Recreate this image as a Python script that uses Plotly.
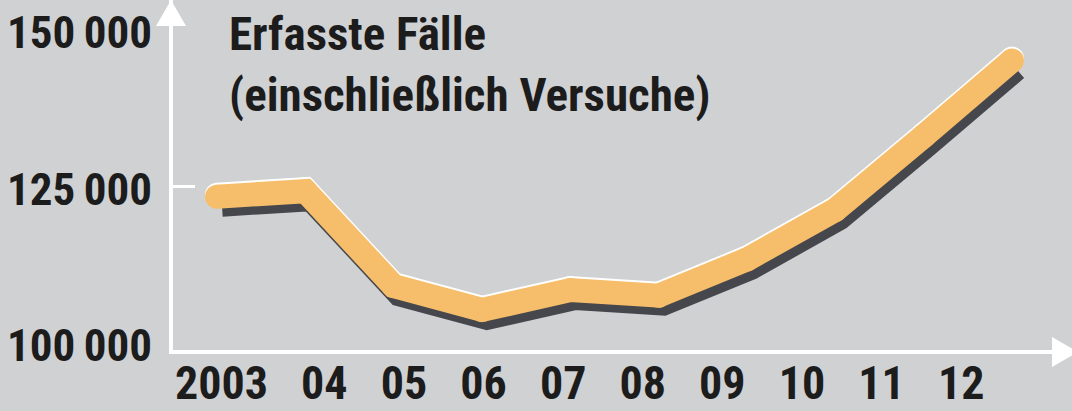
import plotly.graph_objects as go

# ---- data ----
years = ["2003", "04", "05", "06", "07", "08", "09", "10", "11", "12"]
cases = [123373, 124215, 109736, 106107, 109128, 108284, 113800, 121347, 132595, 144117]
y_ticks = [100000, 125000, 150000]
y_labels = ["100\u2009000", "125\u2009000", "150\u2009000"]
title_lines = ["Erfasste Fälle", "(einschließlich Versuche)"]

# ---- layout geometry ----
W, H = 1072, 411
ML, MB = 173, 61
PW, PH = W - ML, H - MB
BG = "#d0d1d3"
ORANGE = "#f6be6a"
SHADOW = "#46474c"
INK = "#1c1c1c"
FONT = "Liberation Sans Narrow, Arial Narrow, Roboto Condensed, DejaVu Sans Condensed, Roboto, sans-serif"

x_step = 88.33
x0 = -44 / x_step
xr = [x0, x0 + PW / x_step]
yr = [100000, 153354]
ypp = PH / (yr[1] - yr[0])
idx = list(range(len(years)))

# label axes (labels in the original are right-aligned on their own spacing)
lab_step = 79.6
lx0 = -(268 - ML) / lab_step
lab_xr = [lx0, lx0 + PW / lab_step]
lab_ypp = (345.5 - 32) / (150000 - 100000)
lab_yr = [100000 - (PH - 345.5) / lab_ypp, 100000 + 345.5 / lab_ypp]


def shift_x(dx):
    return [xr[0] - dx / x_step, xr[1] - dx / x_step]


def shift_y(dy):  # positive = down
    return [yr[0] + dy / ypp, yr[1] + dy / ypp]


fig = go.Figure()
# shadow (base axes, shifted)
fig.add_trace(go.Scatter(x=idx, y=cases, mode="lines", xaxis="x", yaxis="y",
                         line=dict(color=SHADOW, width=22), hoverinfo="skip", showlegend=False))
# white highlight along the top edge
fig.add_trace(go.Scatter(x=idx, y=cases, mode="lines+markers", xaxis="x2", yaxis="y2",
                         line=dict(color="white", width=24),
                         marker=dict(color="white", size=24), hoverinfo="skip", showlegend=False))
# main orange line
fig.add_trace(go.Scatter(x=idx, y=cases, mode="lines+markers", xaxis="x3", yaxis="y3",
                         line=dict(color=ORANGE, width=24),
                         marker=dict(color=ORANGE, size=24), showlegend=False))
# label axes carrier
fig.add_trace(go.Scatter(x=[], y=[], xaxis="x4", yaxis="y4", showlegend=False))

hidden = dict(visible=False, showgrid=False, zeroline=False, automargin=False)
fig.update_layout(
    width=W, height=H, autosize=False,
    margin=dict(l=ML, r=0, t=0, b=MB, pad=0),
    paper_bgcolor=BG, plot_bgcolor=BG,
    xaxis=dict(range=shift_x(5), showline=True, linecolor="white", linewidth=4,
               showticklabels=False, ticks="", showgrid=False, zeroline=False, automargin=False),
    yaxis=dict(range=shift_y(9), showline=True, linecolor="white", linewidth=4,
               showticklabels=False, ticks="", showgrid=False, zeroline=False, automargin=False),
    xaxis2=dict(range=shift_x(0), overlaying="x", **hidden),
    yaxis2=dict(range=shift_y(-2), overlaying="y", **hidden),
    xaxis3=dict(range=xr, overlaying="x", **hidden),
    yaxis3=dict(range=yr, overlaying="y", side="left", showline=False, showgrid=False,
                zeroline=False, tickmode="array", tickvals=[125000], ticks="inside",
                ticklen=22, tickwidth=3, tickcolor="white", showticklabels=False,
                automargin=False),
    xaxis4=dict(range=lab_xr, overlaying="x", side="bottom", showline=False, showgrid=False,
                zeroline=False, tickmode="array", tickvals=idx, ticktext=years, ticks="",
                ticklabelposition="outside left", ticklabelstandoff=2, automargin=False,
                tickfont=dict(family=FONT, size=46, color=INK, weight="bold")),
    yaxis4=dict(range=lab_yr, overlaying="y", side="left", showline=False, showgrid=False,
                zeroline=False, tickmode="array", tickvals=y_ticks, ticktext=y_labels, ticks="",
                ticklabelstandoff=20, automargin=False,
                tickfont=dict(family=FONT, size=45, color=INK, weight="bold")),
    shapes=[
        dict(type="path", xref="paper", yref="paper", xsizemode="pixel", ysizemode="pixel",
             xanchor=0, yanchor=1, path="M-17,-26 L13,-26 L-2,0 Z",
             fillcolor="white", line=dict(width=0), layer="above"),
        dict(type="path", xref="paper", yref="paper", xsizemode="pixel", ysizemode="pixel",
             xanchor=1, yanchor=0, path="M-20,13 L-20,-17 L6,-2 Z",
             fillcolor="white", line=dict(width=0), layer="above"),
    ],
    annotations=[dict(text="<br>".join(title_lines), xref="paper", yref="paper",
                      x=(227 - ML) / PW, y=1 - 4 / PH, xanchor="left", yanchor="top",
                      align="left", showarrow=False,
                      font=dict(family=FONT, size=47, color=INK, weight="bold"))],
)

fig.write_html("out.html", config={"displayModeBar": False},
               post_script="document.body.style.margin='0';document.body.style.padding='0';"
                           "document.body.style.background='" + BG + "';")
